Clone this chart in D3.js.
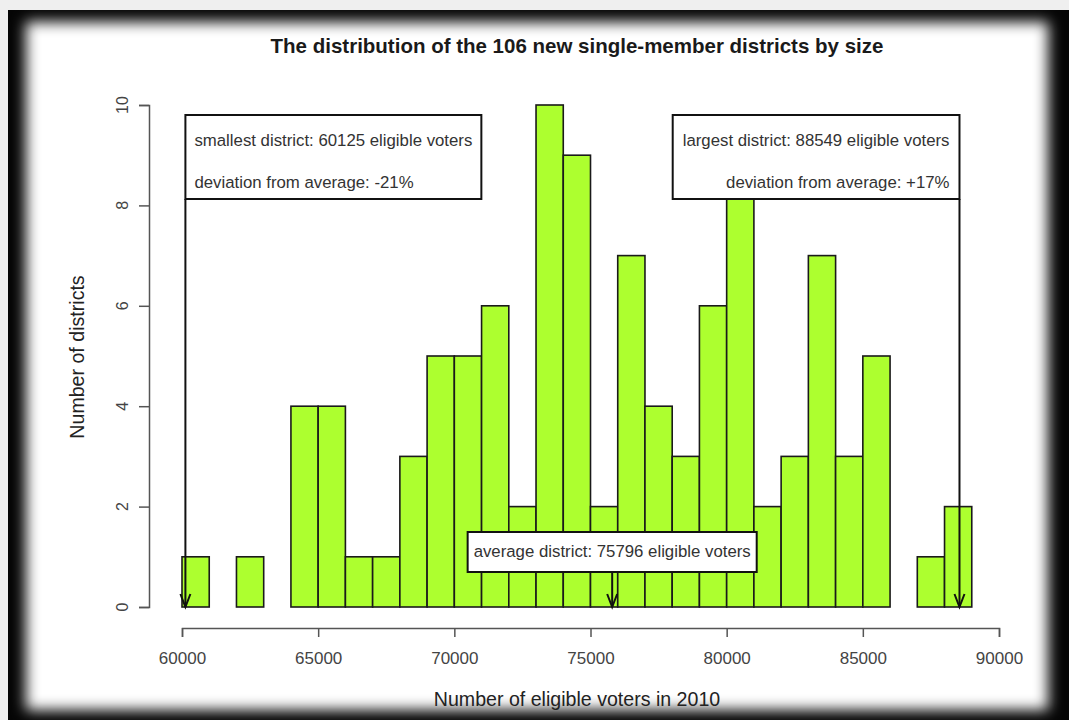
<!DOCTYPE html>
<html>
<head>
<meta charset="utf-8">
<script src="https://cdn.jsdelivr.net/npm/d3@7"></script>
<style>
  html, body { margin: 0; padding: 0; background: #efefef; }
  svg { display: block; }
  text { font-family: "Liberation Sans", Arial, Helvetica, sans-serif; }
</style>
</head>
<body>
<svg id="chart" width="1069" height="720"></svg>
<script>
// ---- data ----
const binStarts = [60000, 61000, 62000, 63000, 64000, 65000, 66000, 67000, 68000, 69000,
                   70000, 71000, 72000, 73000, 74000, 75000, 76000, 77000, 78000, 79000,
                   80000, 81000, 82000, 83000, 84000, 85000, 86000, 87000, 88000];
const counts    = [1, 0, 1, 0, 4, 4, 1, 1, 3, 5,
                   5, 6, 2, 10, 9, 2, 7, 4, 3, 6,
                   9, 2, 3, 7, 3, 5, 0, 1, 2];
const binWidth = 1000;
const xTicks = [60000, 65000, 70000, 75000, 80000, 85000, 90000];
const yTicks = [0, 2, 4, 6, 8, 10];
const smallest = 60125, largest = 88549, average = 75796;
const titleText = "The distribution of the 106 new single-member districts by size";
const xLabel = "Number of eligible voters in 2010";
const yLabel = "Number of districts";
const leftLines = ["smallest district: 60125 eligible voters", "deviation from average: -21%"];
const rightLines = ["largest district: 88549 eligible voters", "deviation from average: +17%"];
const midLine = "average district: 75796 eligible voters";

const svg = d3.select("#chart");

// ---- frame with dark vignette ----
const defs = svg.append("defs");
const f = defs.append("filter").attr("id", "soft").attr("x", "-5%").attr("y", "-5%").attr("width", "110%").attr("height", "110%");
f.append("feGaussianBlur").attr("stdDeviation", 7);
svg.append("rect").attr("x", 8).attr("y", 10).attr("width", 1061).attr("height", 710).attr("fill", "#050505");
svg.append("rect").attr("x", 26).attr("y", 22).attr("width", 1022).attr("height", 688)
   .attr("fill", "#ffffff").attr("filter", "url(#soft)");

// ---- scales ----
const x = d3.scaleLinear().domain([60000, 90000]).range([182, 999]);
const y = d3.scaleLinear().domain([0, 10]).range([607, 105]);

// ---- bars ----
svg.append("g").selectAll("rect").data(binStarts).join("rect")
  .attr("x", (d) => x(d))
  .attr("width", (d) => x(d + binWidth) - x(d))
  .attr("y", (d, i) => y(counts[i]))
  .attr("height", (d, i) => y(0) - y(counts[i]))
  .attr("fill", "#adff2f")
  .attr("stroke", "#1a1a1a")
  .attr("stroke-width", 1.6);

// ---- x axis ----
const xAxis = d3.axisBottom(x).tickValues(xTicks).tickSize(9).tickSizeOuter(9).tickPadding(15)
  .tickFormat(d3.format("d"));
const gx = svg.append("g").attr("transform", "translate(0,628)").call(xAxis);
gx.selectAll("path, line").attr("stroke", "#555").attr("stroke-width", 1.5);
gx.selectAll("text").attr("font-size", 17).attr("fill", "#444")
  .attr("font-family", "Liberation Sans, Arial, sans-serif");

// ---- y axis ----
const yAxis = d3.axisLeft(y).tickValues(yTicks).tickSize(10).tickSizeOuter(10).tickFormat("");
const gy = svg.append("g").attr("transform", "translate(149,0)").call(yAxis);
gy.selectAll("path, line").attr("stroke", "#555").attr("stroke-width", 1.5);
svg.append("g").selectAll("text").data(yTicks).join("text")
  .attr("transform", (d) => `translate(122,${y(d)}) rotate(-90)`)
  .attr("text-anchor", "middle").attr("dominant-baseline", "central")
  .attr("font-size", 16).attr("fill", "#444").text((d) => d);

// ---- titles ----
svg.append("text").attr("x", 577).attr("y", 53).attr("text-anchor", "middle")
  .attr("font-size", 20.5).attr("font-weight", "bold").attr("fill", "#1a1a1a").text(titleText);
svg.append("text").attr("x", 577).attr("y", 706).attr("text-anchor", "middle")
  .attr("font-size", 19.6).attr("fill", "#222").text(xLabel);
svg.append("text").attr("transform", "translate(84,357) rotate(-90)").attr("text-anchor", "middle")
  .attr("font-size", 19.6).attr("fill", "#222").text(yLabel);

// ---- annotations ----
function arrow(xp, y0, y1) {
  const g = svg.append("g").attr("stroke", "#111").attr("stroke-width", 2).attr("fill", "none");
  g.append("line").attr("x1", xp).attr("x2", xp).attr("y1", y0).attr("y2", y1);
  g.append("path").attr("d", `M${xp - 5},${y1 - 13} L${xp},${y1} L${xp + 5},${y1 - 13}`);
}

const annSize = 16.8;

// left box
const leftX = x(smallest);
arrow(leftX, 199, y(0));
const lb = svg.append("g");
const lbRect = lb.append("rect").attr("x", leftX).attr("y", 115).attr("height", 84)
  .attr("fill", "#fff").attr("stroke", "#111").attr("stroke-width", 2);
const lt = lb.selectAll("text").data(leftLines).join("text")
  .attr("x", leftX + 9).attr("y", (d, i) => 146 + i * 42)
  .attr("font-size", annSize).attr("fill", "#333").text((d) => d);
let lw = d3.max(lt.nodes(), (n) => n.getComputedTextLength());
lbRect.attr("width", lw + 18);

// right box
const rightX = x(largest);
arrow(rightX, 199, y(0));
const rb = svg.append("g");
const rbRect = rb.append("rect").attr("y", 115).attr("height", 84)
  .attr("fill", "#fff").attr("stroke", "#111").attr("stroke-width", 2);
const rt = rb.selectAll("text").data(rightLines).join("text")
  .attr("x", rightX - 10).attr("y", (d, i) => 146 + i * 42).attr("text-anchor", "end")
  .attr("font-size", annSize).attr("fill", "#333").text((d) => d);
let rw = d3.max(rt.nodes(), (n) => n.getComputedTextLength());
rbRect.attr("x", rightX - rw - 20).attr("width", rw + 20);

// middle box
const midX = x(average);
arrow(midX, 572, y(0));
const mb = svg.append("g");
const mbRect = mb.append("rect").attr("y", 532).attr("height", 40)
  .attr("fill", "#fff").attr("stroke", "#111").attr("stroke-width", 2);
const mt = mb.append("text").attr("x", midX).attr("y", 557).attr("text-anchor", "middle")
  .attr("font-size", annSize).attr("fill", "#333").text(midLine);
const mw = mt.node().getComputedTextLength();
mbRect.attr("x", midX - mw / 2 - 6).attr("width", mw + 12);
</script>
</body>
</html>
